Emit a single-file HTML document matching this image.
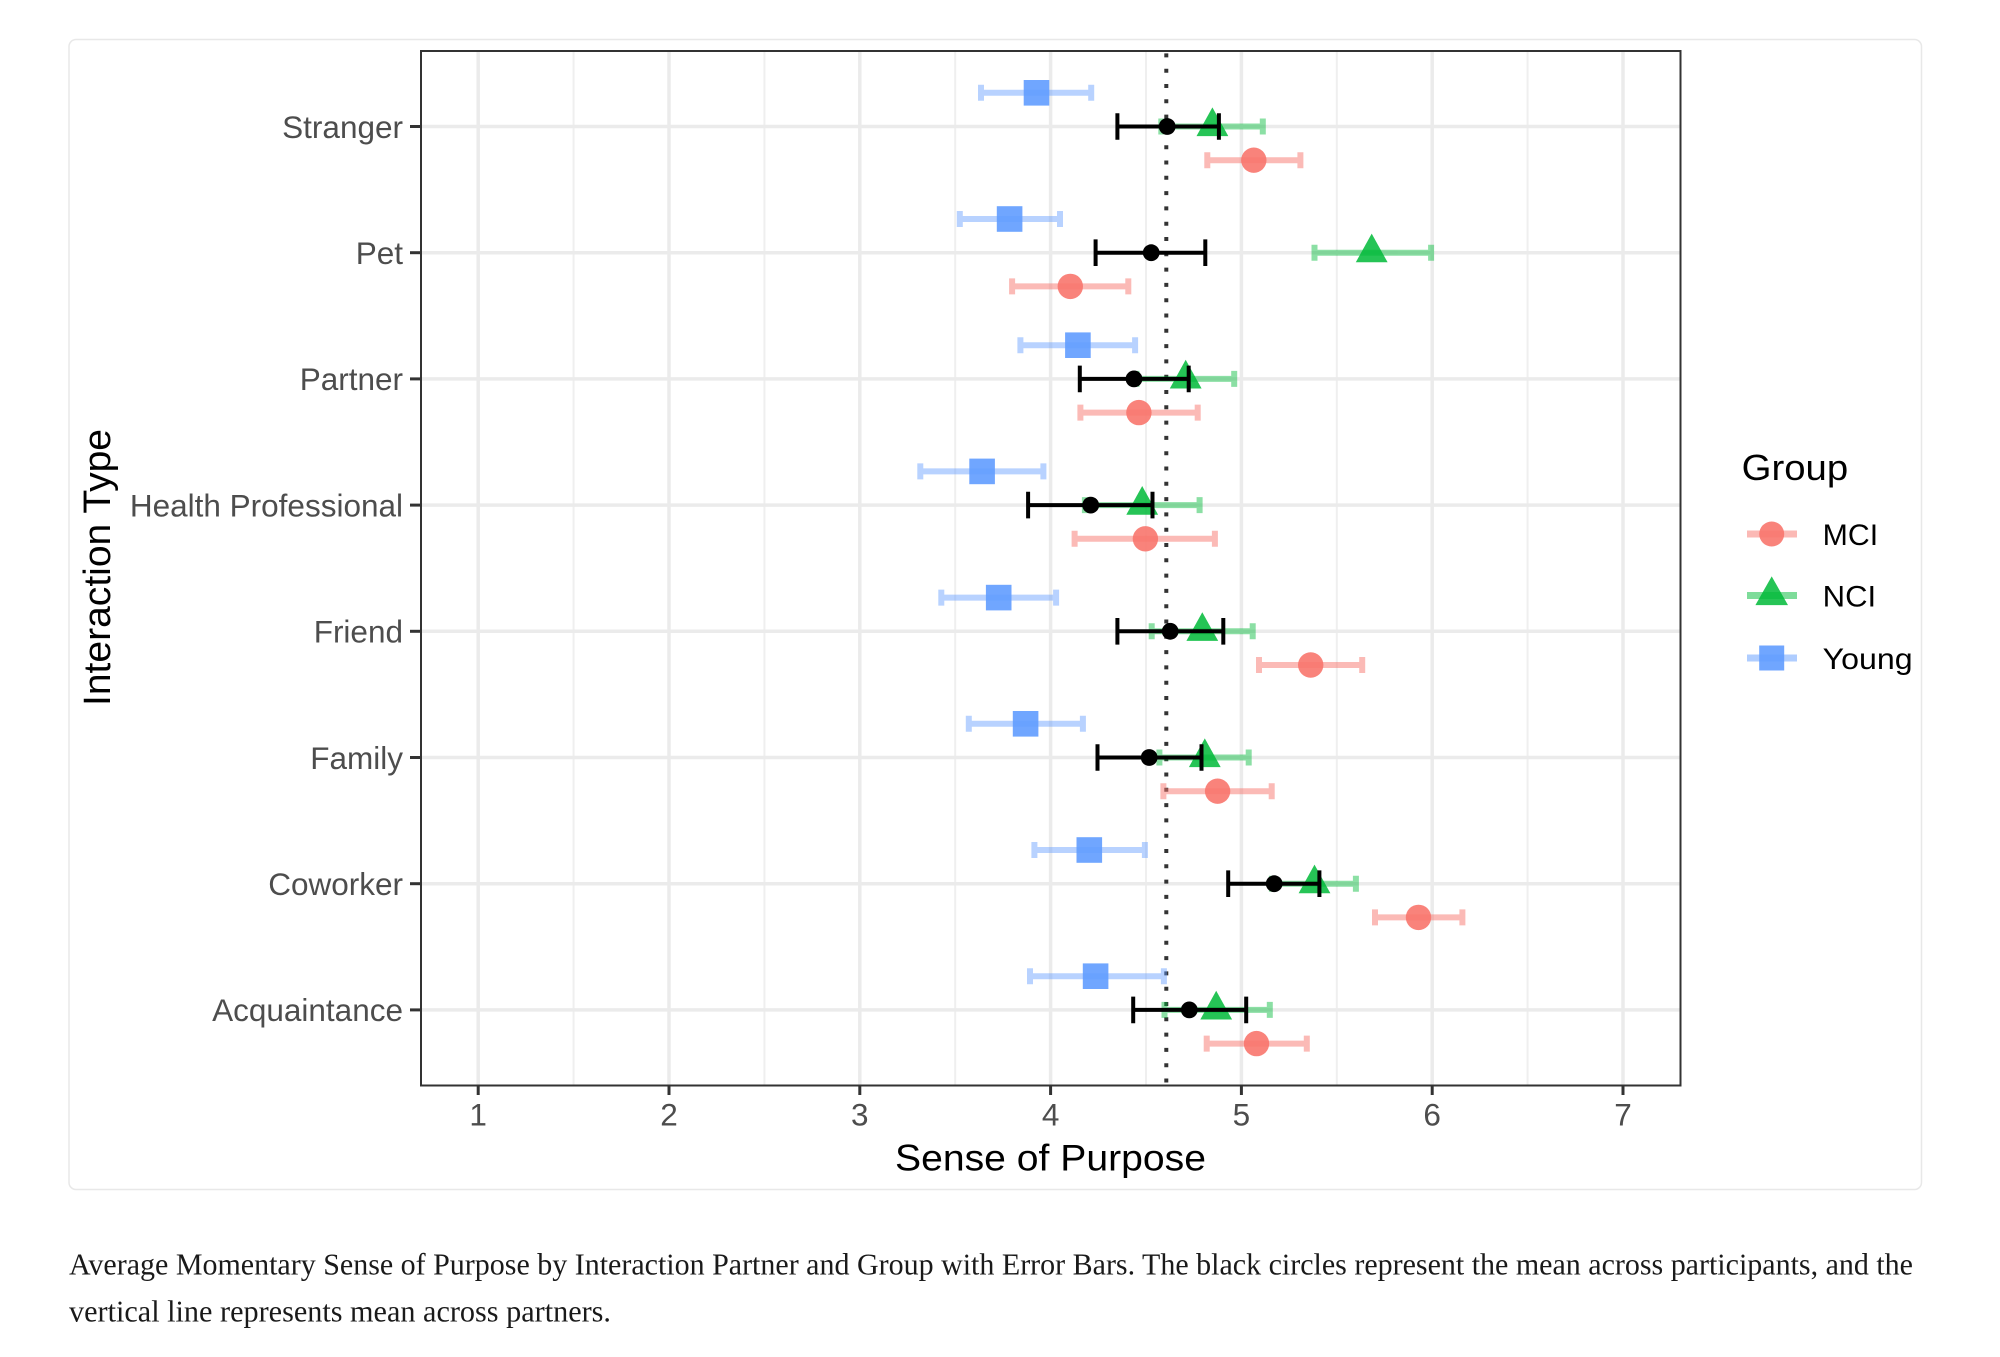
<!DOCTYPE html>
<html>
<head>
<meta charset="utf-8">
<style>
  html,body{margin:0;padding:0;background:#ffffff;}
  svg{display:block;}
  .tk{font-family:"Liberation Sans",Arial,sans-serif;font-size:31.5px;fill:#4d4d4d;}
  .ttl{font-family:"Liberation Sans",Arial,sans-serif;fill:#000;}
  .cap{font-family:"Liberation Serif","Times New Roman",serif;font-size:31px;fill:#1a1a1a;}
</style>
</head>
<body>
<svg width="2000" height="1357" viewBox="0 0 2000 1357" xmlns="http://www.w3.org/2000/svg">
  <!-- card -->
  <rect x="69" y="39.5" width="1852.5" height="1150" rx="7" ry="7" fill="#ffffff" stroke="#e8e8e8" stroke-width="1.5"/>

  <!-- panel background -->
  <rect x="421" y="51" width="1259.5" height="1034.5" fill="#ffffff"/>

  <!-- minor vertical gridlines -->
  <g stroke="#efefef" stroke-width="2">
    <line x1="573.6" y1="51" x2="573.6" y2="1085.5"/>
    <line x1="764.4" y1="51" x2="764.4" y2="1085.5"/>
    <line x1="955.2" y1="51" x2="955.2" y2="1085.5"/>
    <line x1="1146.0" y1="51" x2="1146.0" y2="1085.5"/>
    <line x1="1336.8" y1="51" x2="1336.8" y2="1085.5"/>
    <line x1="1527.6" y1="51" x2="1527.6" y2="1085.5"/>
  </g>
  <!-- major gridlines -->
  <g stroke="#ebebeb" stroke-width="3.5">
    <line x1="478.2" y1="51" x2="478.2" y2="1085.5"/>
    <line x1="669.0" y1="51" x2="669.0" y2="1085.5"/>
    <line x1="859.8" y1="51" x2="859.8" y2="1085.5"/>
    <line x1="1050.6" y1="51" x2="1050.6" y2="1085.5"/>
    <line x1="1241.4" y1="51" x2="1241.4" y2="1085.5"/>
    <line x1="1432.2" y1="51" x2="1432.2" y2="1085.5"/>
    <line x1="1623.0" y1="51" x2="1623.0" y2="1085.5"/>
    <line x1="421" y1="126.5" x2="1680.5" y2="126.5"/>
    <line x1="421" y1="252.7" x2="1680.5" y2="252.7"/>
    <line x1="421" y1="378.9" x2="1680.5" y2="378.9"/>
    <line x1="421" y1="505.1" x2="1680.5" y2="505.1"/>
    <line x1="421" y1="631.3" x2="1680.5" y2="631.3"/>
    <line x1="421" y1="757.5" x2="1680.5" y2="757.5"/>
    <line x1="421" y1="883.7" x2="1680.5" y2="883.7"/>
    <line x1="421" y1="1009.9" x2="1680.5" y2="1009.9"/>
  </g>

  <!-- dotted mean line -->
  <line x1="1166.3" y1="53.4" x2="1166.3" y2="1085" stroke="#333333" stroke-width="4" stroke-dasharray="4 11.3"/>

  <!-- Young error bars -->
  <g opacity="0.45" stroke="#619CFF" stroke-width="6" fill="none">
    <path d="M981.0 92.8H1091.2M981.0 84.8V100.8M1091.2 84.8V100.8"/>
    <path d="M959.8 219.0H1060.0M959.8 211.0V227.0M1060.0 211.0V227.0"/>
    <path d="M1020.4 345.2H1135.1M1020.4 337.2V353.2M1135.1 337.2V353.2"/>
    <path d="M920.3 471.4H1043.4M920.3 463.4V479.4M1043.4 463.4V479.4"/>
    <path d="M941.3 597.6H1056.1M941.3 589.6V605.6M1056.1 589.6V605.6"/>
    <path d="M968.8 723.8H1082.9M968.8 715.8V731.8M1082.9 715.8V731.8"/>
    <path d="M1034.4 850.0H1144.9M1034.4 842.0V858.0M1144.9 842.0V858.0"/>
    <path d="M1030.0 976.2H1163.9M1030.0 968.2V984.2M1163.9 968.2V984.2"/>
  </g>
  <!-- NCI error bars -->
  <g opacity="0.45" stroke="#00BA38" stroke-width="6" fill="none">
    <path d="M1161.3 126.5H1262.8M1161.3 118.5V134.5M1262.8 118.5V134.5"/>
    <path d="M1314.5 252.7H1431.1M1314.5 244.7V260.7M1431.1 244.7V260.7"/>
    <path d="M1136.5 378.9H1234.2M1136.5 370.9V386.9M1234.2 370.9V386.9"/>
    <path d="M1084.9 505.1H1199.6M1084.9 497.1V513.1M1199.6 497.1V513.1"/>
    <path d="M1151.7 631.3H1252.7M1151.7 623.3V639.3M1252.7 623.3V639.3"/>
    <path d="M1159.4 757.5H1248.7M1159.4 749.5V765.5M1248.7 749.5V765.5"/>
    <path d="M1271.9 883.7H1355.9M1271.9 875.7V891.7M1355.9 875.7V891.7"/>
    <path d="M1164.5 1009.9H1269.8M1164.5 1001.9V1017.9M1269.8 1001.9V1017.9"/>
  </g>
  <!-- MCI error bars -->
  <g opacity="0.5" stroke="#F8766D" stroke-width="6" fill="none">
    <path d="M1207.3 160.2H1300.4M1207.3 152.2V168.2M1300.4 152.2V168.2"/>
    <path d="M1012.1 286.4H1128.3M1012.1 278.4V294.4M1128.3 278.4V294.4"/>
    <path d="M1080.4 412.6H1197.7M1080.4 404.6V420.6M1197.7 404.6V420.6"/>
    <path d="M1074.6 538.8H1214.9M1074.6 530.8V546.8M1214.9 530.8V546.8"/>
    <path d="M1259.0 665.0H1362.2M1259.0 657.0V673.0M1362.2 657.0V673.0"/>
    <path d="M1163.4 791.2H1271.7M1163.4 783.2V799.2M1271.7 783.2V799.2"/>
    <path d="M1375.0 917.4H1462.4M1375.0 909.4V925.4M1462.4 909.4V925.4"/>
    <path d="M1206.7 1043.6H1306.8M1206.7 1035.6V1051.6M1306.8 1035.6V1051.6"/>
  </g>

  <!-- Young squares -->
  <g fill="#619CFF" opacity="0.9">
    <rect x="1023.7" y="80.0" width="25.6" height="25.6"/>
    <rect x="996.8" y="206.2" width="25.6" height="25.6"/>
    <rect x="1065.1" y="332.4" width="25.6" height="25.6"/>
    <rect x="969.3" y="458.6" width="25.6" height="25.6"/>
    <rect x="985.9" y="584.8" width="25.6" height="25.6"/>
    <rect x="1012.8" y="711.0" width="25.6" height="25.6"/>
    <rect x="1076.5" y="837.2" width="25.6" height="25.6"/>
    <rect x="1082.8" y="963.4" width="25.6" height="25.6"/>
  </g>
  <!-- NCI triangles -->
  <g fill="#00BA38" opacity="0.85">
    <path d="M1212.4 107.4L1228.3 136.1L1196.5 136.1Z"/>
    <path d="M1371.7 233.6L1387.6 262.3L1355.8 262.3Z"/>
    <path d="M1185.7 359.8L1201.6 388.5L1169.8 388.5Z"/>
    <path d="M1142.2 486.0L1158.1 514.7L1126.3 514.7Z"/>
    <path d="M1202.3 612.2L1218.2 640.9L1186.4 640.9Z"/>
    <path d="M1204.8 738.4L1220.7 767.1L1188.9 767.1Z"/>
    <path d="M1314.5 864.6L1330.4 893.3L1298.6 893.3Z"/>
    <path d="M1216.2 990.8L1232.1 1019.5L1200.3 1019.5Z"/>
  </g>
  <!-- MCI circles -->
  <g fill="#F8766D" opacity="0.9">
    <circle cx="1253.8" cy="160.2" r="12.7"/>
    <circle cx="1070.3" cy="286.4" r="12.7"/>
    <circle cx="1138.9" cy="412.6" r="12.7"/>
    <circle cx="1145.4" cy="538.8" r="12.7"/>
    <circle cx="1310.7" cy="665.0" r="12.7"/>
    <circle cx="1217.6" cy="791.2" r="12.7"/>
    <circle cx="1418.5" cy="917.4" r="12.7"/>
    <circle cx="1256.5" cy="1043.6" r="12.7"/>
  </g>

  <!-- black mean error bars -->
  <g stroke="#000" stroke-width="4" fill="none">
    <path d="M1117.4 126.5H1218.9M1117.4 113.2V139.8M1218.9 113.2V139.8"/>
    <path d="M1095.6 252.7H1205.3M1095.6 239.4V266.0M1205.3 239.4V266.0"/>
    <path d="M1079.8 378.9H1188.7M1079.8 365.6V392.2M1188.7 365.6V392.2"/>
    <path d="M1028.1 505.1H1152.5M1028.1 491.8V518.4M1152.5 491.8V518.4"/>
    <path d="M1117.4 631.3H1223.3M1117.4 618.0V644.6M1223.3 618.0V644.6"/>
    <path d="M1097.5 757.5H1201.5M1097.5 744.2V770.8M1201.5 744.2V770.8"/>
    <path d="M1228.2 883.7H1319.4M1228.2 870.4V897.0M1319.4 870.4V897.0"/>
    <path d="M1133.2 1009.9H1246.2M1133.2 996.6V1023.2M1246.2 996.6V1023.2"/>
  </g>
  <g fill="#000">
    <circle cx="1167.2" cy="126.5" r="8.4"/>
    <circle cx="1151.2" cy="252.7" r="8.4"/>
    <circle cx="1134.0" cy="378.9" r="8.4"/>
    <circle cx="1090.7" cy="505.1" r="8.4"/>
    <circle cx="1170.2" cy="631.3" r="8.4"/>
    <circle cx="1149.2" cy="757.5" r="8.4"/>
    <circle cx="1274.2" cy="883.7" r="8.4"/>
    <circle cx="1189.3" cy="1009.9" r="8.4"/>
  </g>

  <!-- panel border -->
  <rect x="421" y="51" width="1259.5" height="1034.5" fill="none" stroke="#333333" stroke-width="2"/>

  <!-- y ticks -->
  <g stroke="#333333" stroke-width="3">
    <line x1="410" y1="126.5" x2="421" y2="126.5"/>
    <line x1="410" y1="252.7" x2="421" y2="252.7"/>
    <line x1="410" y1="378.9" x2="421" y2="378.9"/>
    <line x1="410" y1="505.1" x2="421" y2="505.1"/>
    <line x1="410" y1="631.3" x2="421" y2="631.3"/>
    <line x1="410" y1="757.5" x2="421" y2="757.5"/>
    <line x1="410" y1="883.7" x2="421" y2="883.7"/>
    <line x1="410" y1="1009.9" x2="421" y2="1009.9"/>
  </g>
  <!-- x ticks -->
  <g stroke="#333333" stroke-width="3">
    <line x1="478.2" y1="1085.5" x2="478.2" y2="1095"/>
    <line x1="669.0" y1="1085.5" x2="669.0" y2="1095"/>
    <line x1="859.8" y1="1085.5" x2="859.8" y2="1095"/>
    <line x1="1050.6" y1="1085.5" x2="1050.6" y2="1095"/>
    <line x1="1241.4" y1="1085.5" x2="1241.4" y2="1095"/>
    <line x1="1432.2" y1="1085.5" x2="1432.2" y2="1095"/>
    <line x1="1623.0" y1="1085.5" x2="1623.0" y2="1095"/>
  </g>

  <!-- y tick labels -->
  <g class="tk" text-anchor="end">
    <text x="403" y="137.8">Stranger</text>
    <text x="403" y="264.0">Pet</text>
    <text x="403" y="390.2">Partner</text>
    <text x="403" y="516.4">Health Professional</text>
    <text x="403" y="642.6">Friend</text>
    <text x="403" y="768.8">Family</text>
    <text x="403" y="895.0">Coworker</text>
    <text x="403" y="1021.2">Acquaintance</text>
  </g>
  <!-- x tick labels -->
  <g class="tk" text-anchor="middle">
    <text x="478.2" y="1125.5">1</text>
    <text x="669.0" y="1125.5">2</text>
    <text x="859.8" y="1125.5">3</text>
    <text x="1050.6" y="1125.5">4</text>
    <text x="1241.4" y="1125.5">5</text>
    <text x="1432.2" y="1125.5">6</text>
    <text x="1623.0" y="1125.5">7</text>
  </g>

  <!-- axis titles -->
  <text class="ttl" x="895" y="1170.5" font-size="37" textLength="311" lengthAdjust="spacingAndGlyphs">Sense of Purpose</text>
  <text class="ttl" transform="translate(110,706) rotate(-90)" x="0" y="0" font-size="38" textLength="277" lengthAdjust="spacingAndGlyphs">Interaction Type</text>

  <!-- legend -->
  <text class="ttl" x="1741.7" y="480" font-size="36" textLength="106.5" lengthAdjust="spacingAndGlyphs">Group</text>
  <g stroke-width="7" opacity="0.5">
    <line x1="1747" y1="534" x2="1797" y2="534" stroke="#F8766D"/>
    <line x1="1747" y1="595.5" x2="1797" y2="595.5" stroke="#00BA38"/>
    <line x1="1747" y1="658" x2="1797" y2="658" stroke="#619CFF"/>
  </g>
  <circle cx="1771.7" cy="534" r="12.5" fill="#F8766D" opacity="0.9"/>
  <path d="M1771.7 576.4L1788 605.1L1755.4 605.1Z" fill="#00BA38" opacity="0.85"/>
  <rect x="1759.2" y="645.5" width="25" height="25" fill="#619CFF" opacity="0.9"/>
  <g class="ttl" font-size="29.5">
    <text x="1822.7" y="545" textLength="55.5" lengthAdjust="spacingAndGlyphs">MCI</text>
    <text x="1822.7" y="606.5" textLength="53.5" lengthAdjust="spacingAndGlyphs">NCI</text>
    <text x="1822.7" y="669" textLength="90" lengthAdjust="spacingAndGlyphs">Young</text>
  </g>

  <!-- caption -->
  <text class="cap" x="69" y="1274.5" textLength="1844" lengthAdjust="spacingAndGlyphs">Average Momentary Sense of Purpose by Interaction Partner and Group with Error Bars. The black circles represent the mean across participants, and the</text>
  <text class="cap" x="69" y="1321.5" textLength="542" lengthAdjust="spacingAndGlyphs">vertical line represents mean across partners.</text>
</svg>
</body>
</html>
